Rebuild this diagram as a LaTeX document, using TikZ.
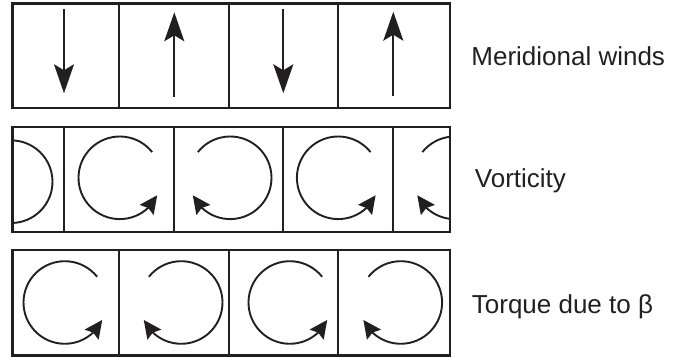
\documentclass[tikz,border=0pt]{standalone}
\usepackage{fontspec}
\setmainfont{Liberation Sans}
\usetikzlibrary{arrows.meta,bending}
\definecolor{ink}{HTML}{231F20}
\tikzset{
  rowframe/.style={draw=ink, line width=1.2pt},
  divider/.style={draw=ink, line width=0.85pt},
  wind/.style={draw=ink, line width=0.95pt, -{Stealth[length=14.5pt,width=10pt,inset=3pt]}},
  swirl/.style={draw=ink, line width=0.95pt, -{Stealth[length=9pt,width=8.5pt,inset=1.2pt,flex]}},
  rowtext/.style={anchor=base west, inner sep=0pt, font=\fontsize{13}{15}\selectfont, text=ink},
  swirlccw/.pic={\draw[swirl] (38.5:41.3) arc[start angle=38.5, end angle=335, radius=41.3];},
  swirlcw/.pic={\draw[swirl] (141.5:41.3) arc[start angle=141.5, end angle=-155, radius=41.3];},
}
\begin{document}
\begin{tikzpicture}[x=0.5pt,y=0.5pt]
\useasboundingbox (0,0) rectangle (692,358);

% meridional winds
\draw[rowframe] (12.3,250) rectangle (450,354.5);
\foreach \x in {119,229,338} \draw[divider] (\x,250) -- (\x,354.5);
\draw[wind] (64,348.7) -- (64,264.7);
\draw[wind] (174.3,261.3) -- (174.3,345.7);
\draw[wind] (283.3,348.7) -- (283.3,264.7);
\draw[wind] (393.3,262) -- (393.3,346.3);

% vorticity, shifted by half a cell
\begin{scope}
  \clip (12.3,125.7) rectangle (450,231);
  \pic at (11.2,176.3) {swirlcw};
  \pic at (119.8,180.2) {swirlccw};
  \pic at (230.2,180.2) {swirlcw};
  \pic at (338.2,180.2) {swirlccw};
  \pic at (454.7,180.2) {swirlcw};
\end{scope}
\draw[rowframe] (12.3,125.7) rectangle (450,231);
\foreach \x in {64,174,283,393} \draw[divider] (\x,125.7) -- (\x,231);

% torque due to beta
\draw[rowframe] (12.3,2.3) rectangle (450,108);
\foreach \x in {119.3,229,338.3} \draw[divider] (\x,2.3) -- (\x,108);
\pic at (64.8,55.5) {swirlccw};
\pic at (181.2,55.5) {swirlcw};
\pic at (289.8,55.5) {swirlccw};
\pic at (400.8,55.5) {swirlcw};

% row captions
\node[rowtext] (winds) at (471,292.3) {Meridional winds};
\node[rowtext] (vort) at (474.5,170.7) {Vorticity};
\node[rowtext] (torque) at (471.5,44.7) {Torque due to β};
\end{tikzpicture}
\end{document}
